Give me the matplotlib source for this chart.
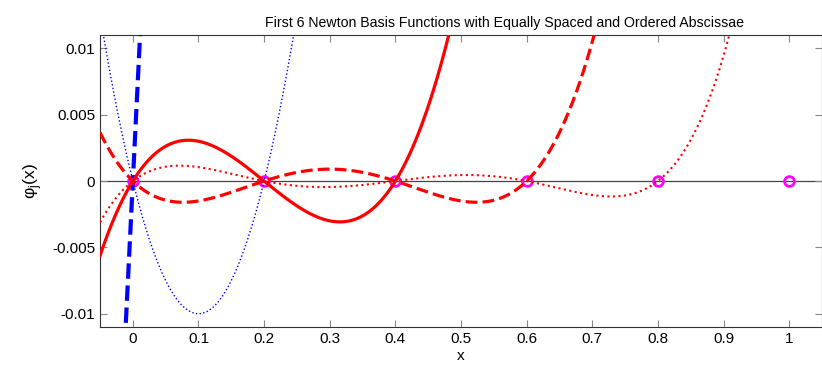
import numpy as np
import matplotlib
matplotlib.use("Agg")
import matplotlib.pyplot as plt

plt.rcParams['font.family'] = ['Liberation Sans', 'DejaVu Sans']

# Equally spaced, ordered abscissae (interpolation nodes)
nodes = [0.0, 0.2, 0.4, 0.6, 0.8, 1.0]
node_values = [0, 0, 0, 0, 0, 0]
n_basis = 6
colors = ['blue', 'blue', 'blue', 'red', 'red', 'red']
styles = ['-', '--', ':', '-', '--', ':']
widths = [2.5, 3.0, 1.0, 2.3, 2.3, 1.5]
xticks = [0, 0.1, 0.2, 0.3, 0.4, 0.5, 0.6, 0.7, 0.8, 0.9, 1]
xticklabels = ['0', '0.1', '0.2', '0.3', '0.4', '0.5', '0.6', '0.7', '0.8', '0.9', '1']
yticks = [-0.01, -0.005, 0, 0.005, 0.01]
yticklabels = ['-0.01', '-0.005', '0', '0.005', '0.01']

fig = plt.figure(figsize=(8.22, 3.66), dpi=100)
ax = fig.add_axes([0.1217, 0.1066, 0.8783, 0.7974])

x = np.linspace(-0.05, 1.05, 1500)
ax.axhline(0, color='#444444', lw=0.9, zorder=1)
ax.plot(nodes, node_values, 'o', mfc='none', mec='magenta', mew=2, ms=7, zorder=2)

phi = np.ones_like(x)
for j in range(n_basis):
    ax.plot(x, phi, color=colors[j], ls=styles[j], lw=widths[j], zorder=3)
    phi = phi * (x - nodes[j])

ax.set_xlim(-0.05, 1.05)
ax.set_ylim(-0.011, 0.011)
ax.set_xticks(xticks)
ax.set_xticklabels(xticklabels)
ax.set_yticks(yticks)
ax.set_yticklabels(yticklabels)
ax.tick_params(direction='in', length=5, color='#888888', labelsize=11, top=True, right=True)
for s in ax.spines.values():
    s.set_color('#333333')
ax.set_title('First 6 Newton Basis Functions with Equally Spaced and Ordered Abscissae',
             fontsize=10.2, x=0.56)
ax.set_xlabel('x', fontsize=11, labelpad=2)
ax.set_ylabel('φ$_\\mathregular{j}$(x)', fontsize=12.5, labelpad=6)

fig.savefig('out.png', dpi=100)
